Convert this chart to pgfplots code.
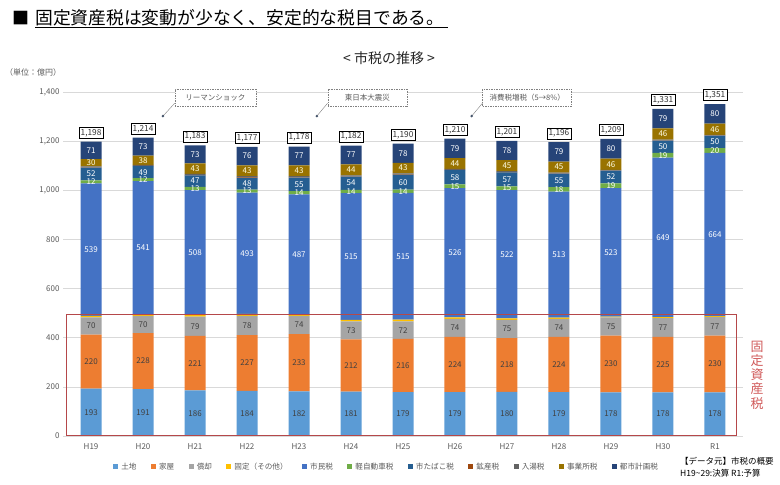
\documentclass[border=0pt]{standalone}
\usepackage{pgfplots}
\pgfplotsset{compat=1.18}
\usepackage{pgfplotstable}
\usepackage{fontspec}
\setmainfont{Noto Sans CJK JP}
\definecolor{c1}{HTML}{5B9BD5}
\definecolor{c2}{HTML}{ED7D31}
\definecolor{c3}{HTML}{A5A5A5}
\definecolor{c4}{HTML}{FFC000}
\definecolor{c5}{HTML}{4472C4}
\definecolor{c6}{HTML}{70AD47}
\definecolor{c7}{HTML}{255E91}
\definecolor{c8}{HTML}{9E480E}
\definecolor{c9}{HTML}{636363}
\definecolor{c10}{HTML}{997300}
\definecolor{c11}{HTML}{264478}
\definecolor{tickgray}{HTML}{595959}
\definecolor{gridgray}{HTML}{D9D9D9}
\definecolor{redbox}{HTML}{B5484A}
\definecolor{redtxt}{HTML}{D05A5A}
\definecolor{dotc}{HTML}{44546A}
\pgfplotsset{/pgf/number format/assume math mode=true,
  sqleg/.style={legend image code/.code={\fill[##1] (0pt,-2.5pt) rectangle (5pt,2.5pt);}},
  lab/.style={only marks, mark=none, nodes near coords, point meta=explicit symbolic,
    every node near coord/.append style={font=\fontsize{8}{9}\selectfont, anchor=center, inner sep=0pt}},
  geom/.style={at={(63pt,49pt)}, anchor=south west, scale only axis, width=680pt, height=344pt,
    xmin=-0.54, xmax=12.54, ymin=0, ymax=1400}
}
\pgfplotstableread{
x a b c d e f g h i j k T TL ma mb mc me mf mg mj mk
0 193 220 70 6 539 12 52 1 4 30 71 1198 1,198 96.5 303 448 758.5 1034 1066 1112 1162.5
1 191 228 70 7 541 12 49 1 4 38 73 1214 1,214 95.5 305 454 766.5 1043 1073.5 1122 1177.5
2 186 221 79 7 508 13 47 1 5 43 73 1183 1,183 93 296.5 446.5 747 1007.5 1037.5 1088.5 1146.5
3 184 227 78 8 493 13 48 2 5 43 76 1177 1,177 92 297.5 450 743.5 996.5 1027 1079.5 1139
4 182 233 74 7 487 14 55 1 5 43 77 1178 1,178 91 298.5 452 739.5 990 1024.5 1079.5 1139.5
5 181 212 73 7 515 14 54 1 4 44 77 1182 1,182 90.5 287 429.5 730.5 995 1029 1083 1143.5
6 179 216 72 7 515 14 60 1 5 43 78 1190 1,190 89.5 287 431 731.5 996 1033 1090.5 1151
7 179 224 74 6 526 15 58 1 4 44 79 1210 1,210 89.5 291 440 746 1016.5 1053 1109 1170.5
8 180 218 75 6 522 15 57 1 4 45 78 1201 1,201 90 289 435.5 740 1008.5 1044.5 1100.5 1162
9 179 224 74 5 513 18 55 1 3 45 79 1196 1,196 89.5 291 440 738.5 1004 1040.5 1094.5 1156.5
10 178 230 75 3 523 19 52 1 2 46 80 1209 1,209 89 293 445.5 747.5 1018.5 1054 1106 1169
11 178 225 77 4 649 19 50 1 3 46 79 1331 1,331 89 290.5 441.5 808.5 1142.5 1177 1229 1291.5
12 178 230 77 3 664 20 50 1 2 46 80 1351 1,351 89 293 446.5 820 1162 1197 1248 1311
}\data
\begin{document}
\begin{tikzpicture}
\path[use as bounding box] (0pt,0pt) rectangle (780pt,485pt);
\node[anchor=west, inner sep=0pt, font=\fontsize{17}{20}\selectfont] at (12pt,467pt) {■};
\node[anchor=west, inner sep=0pt, font=\fontsize{17.8}{20}\selectfont] at (35pt,467pt) {固定資産税は変動が少なく、安定的な税目である。};
\draw[line width=0.8pt] (35pt,457.5pt) -- (448pt,457.5pt);
\node[font=\fontsize{14}{16}\selectfont, text=black!85] at (389pt,427pt) {< 市税の推移 >};
\node[anchor=west, inner sep=0pt, font=\fontsize{8}{9}\selectfont, text=tickgray] at (5pt,413pt) {（単位：億円）};
\begin{axis}[geom,
  ybar stacked, bar width=21pt,
  axis line style={draw=none}, major tick length=0pt,
  ymajorgrids, grid style={gridgray, line width=0.6pt},
  ytick={0,200,...,1400},
  yticklabel style={font=\fontsize{8}{9}\selectfont, text=tickgray},
  /pgf/number format/1000 sep={,},
  xtick={0,...,12},
  xticklabels={H19,H20,H21,H22,H23,H24,H25,H26,H27,H28,H29,H30,R1},
  xticklabel style={font=\fontsize{8}{9}\selectfont, text=tickgray, yshift=-4pt},
  legend style={at={(0.476,-0.09)}, anchor=center, draw=none, fill=none,
    legend columns=-1, font=\fontsize{7.6}{9}\selectfont, text=tickgray,
    /tikz/every even column/.append style={column sep=12.5pt},
    /tikz/every odd column/.append style={column sep=1pt}},
]
\addplot[fill=c1, draw=none, sqleg] table[x=x,y=a]{\data};
\addplot[fill=c2, draw=none, sqleg] table[x=x,y=b]{\data};
\addplot[fill=c3, draw=none, sqleg] table[x=x,y=c]{\data};
\addplot[fill=c4, draw=none, sqleg] table[x=x,y=d]{\data};
\addplot[fill=c5, draw=none, sqleg] table[x=x,y=e]{\data};
\addplot[fill=c6, draw=none, sqleg] table[x=x,y=f]{\data};
\addplot[fill=c7, draw=none, sqleg] table[x=x,y=g]{\data};
\addplot[fill=c8, draw=none, sqleg] table[x=x,y=h]{\data};
\addplot[fill=c9, draw=none, sqleg] table[x=x,y=i]{\data};
\addplot[fill=c10, draw=none, sqleg] table[x=x,y=j]{\data};
\addplot[fill=c11, draw=none, sqleg] table[x=x,y=k]{\data};
\legend{土地,家屋,償却,固定（その他）,市民税,軽自動車税,市たばこ税,鉱産税,入湯税,事業所税,都市計画税}
\end{axis}
\begin{axis}[geom, hide axis, clip=false]
\addplot[lab, every node near coord/.append style={text=black!75}] table[x=x,y=ma,meta=a]{\data};
\addplot[lab, every node near coord/.append style={text=black!75}] table[x=x,y=mb,meta=b]{\data};
\addplot[lab, every node near coord/.append style={text=black!75}] table[x=x,y=mc,meta=c]{\data};
\addplot[lab, every node near coord/.append style={text=white}] table[x=x,y=me,meta=e]{\data};
\addplot[lab, every node near coord/.append style={text=white}] table[x=x,y=mf,meta=f]{\data};
\addplot[lab, every node near coord/.append style={text=white}] table[x=x,y=mg,meta=g]{\data};
\addplot[lab, every node near coord/.append style={text=white!90!yellow}] table[x=x,y=mj,meta=j]{\data};
\addplot[lab, every node near coord/.append style={text=white}] table[x=x,y=mk,meta=k]{\data};
\addplot[lab, every node near coord/.append style={anchor=south, yshift=3pt, draw=black, line width=0.6pt, fill=white, text=black!80, inner sep=1.7pt, font=\fontsize{8.3}{9}\selectfont}] table[x=x,y=T,meta=TL]{\data};
\draw[redbox, line width=1pt] (axis cs:-0.467,0) rectangle (axis cs:12.41,494);
\node[draw=gray, dash pattern=on 1.5pt off 1pt, fill=white, font=\fontsize{7.5}{9}\selectfont, text=tickgray, minimum width=81pt, minimum height=17pt, inner sep=1pt] (b1) at (axis cs:2.392,1377.6) {リーマンショック};
\node[draw=gray, dash pattern=on 1.5pt off 1pt, fill=white, font=\fontsize{7.5}{9}\selectfont, text=tickgray, minimum width=79pt, minimum height=17pt, inner sep=1pt] (b2) at (axis cs:5.313,1377.6) {東日本大震災};
\node[draw=gray, dash pattern=on 1.5pt off 1pt, fill=white, font=\fontsize{7.5}{9}\selectfont, text=tickgray, minimum width=89pt, minimum height=17pt, inner sep=1pt] (b3) at (axis cs:8.388,1377.6) {消費税増税（5→8\%）};
\draw[gray] (axis cs:1.383,1302) -- ([yshift=3pt]b1.south west);
\draw[gray] (axis cs:4.343,1302) -- ([yshift=3pt]b2.south west);
\draw[gray] (axis cs:7.321,1302) -- ([yshift=3pt]b3.south west);
\fill[dotc] (axis cs:1.383,1302) circle (1.4pt);
\fill[dotc] (axis cs:4.343,1302) circle (1.4pt);
\fill[dotc] (axis cs:7.321,1302) circle (1.4pt);
\end{axis}
\node[text=redtxt, font=\fontsize{13}{14.3}\selectfont, align=center, inner sep=0pt] at (757pt,110pt) {固\\定\\資\\産\\税};
\node[anchor=west, inner sep=0pt, font=\fontsize{8.5}{12}\selectfont, align=left] at (680pt,18pt) {【データ元】市税の概要\\H19\textasciitilde 29:決算\ R1:予算};
\end{tikzpicture}
\end{document}
